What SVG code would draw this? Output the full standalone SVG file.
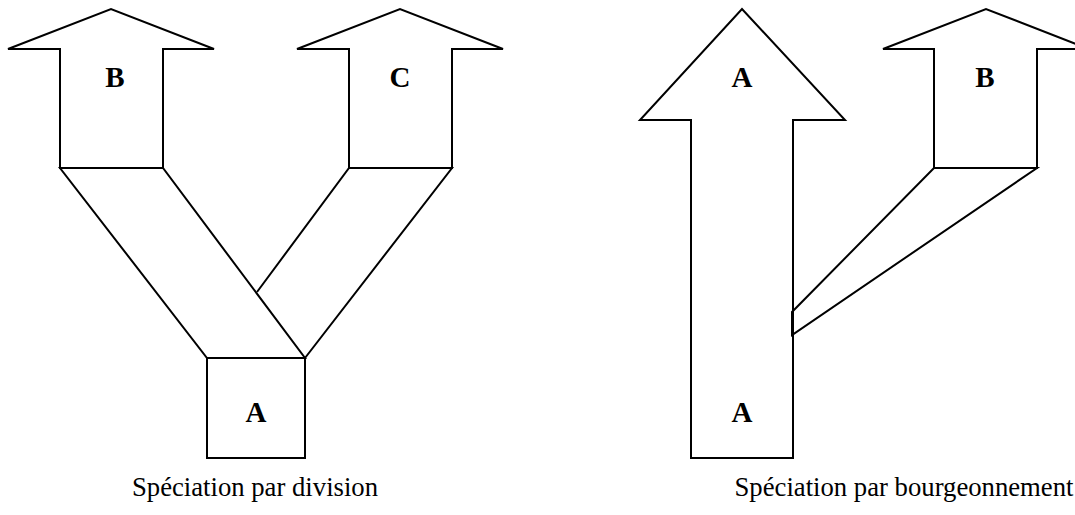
<svg xmlns="http://www.w3.org/2000/svg" width="1075" height="515" viewBox="0 0 1075 515">
<style>
.s{fill:#fff;stroke:#000;stroke-width:2;stroke-linejoin:miter}
.k{fill:none;stroke:#000;stroke-width:2;stroke-linejoin:miter}
.l{font-family:"Liberation Serif","Times New Roman",serif;font-weight:bold;font-size:29px;text-anchor:middle;fill:#000}
.c{font-family:"Liberation Serif","Times New Roman",serif;font-size:26.7px;text-anchor:middle;fill:#000}
</style>
<rect width="1075" height="515" fill="#fff"/>
<g id="box-A-left">
<rect class="s" x="207" y="358" width="98" height="100"/>
<text class="l" x="256" y="422">A</text>
</g>
<g id="arrow-B-left">
<polygon class="s" points="60,168 60,49 8,49 111,9 214,49 163,49 163,168"/>
<text class="l" x="115" y="87">B</text>
</g>
<g id="arrow-C">
<polygon class="s" points="349,168 349,49 297,49 400,9 503,49 452,49 452,168"/>
<text class="l" x="400" y="87">C</text>
</g>
<g id="arrow-A-right">
<polygon class="s" points="691,458 691,120 640,120 742,9 845,120 793,120 793,458"/>
<text class="l" x="742" y="87">A</text>
<text class="l" x="742" y="422">A</text>
</g>
<g id="arrow-B-right">
<polygon class="s" points="934,168 934,49 883,49 986,9 1089,49 1037,49 1037,168"/>
<text class="l" x="985" y="87">B</text>
</g>
<g id="connectors">
<polygon class="k" points="60,168 163,168 305,358 207,358"/>
<polyline class="k" points="257,292 349,168 452,168 305,358"/>
<polygon class="k" points="934,168 1037,168 792,335 792,312"/>
</g>
<g id="captions">
<text class="c" x="255" y="496">Spéciation par division</text>
<text class="c" x="904" y="496">Spéciation par bourgeonnement</text>
</g>
</svg>
